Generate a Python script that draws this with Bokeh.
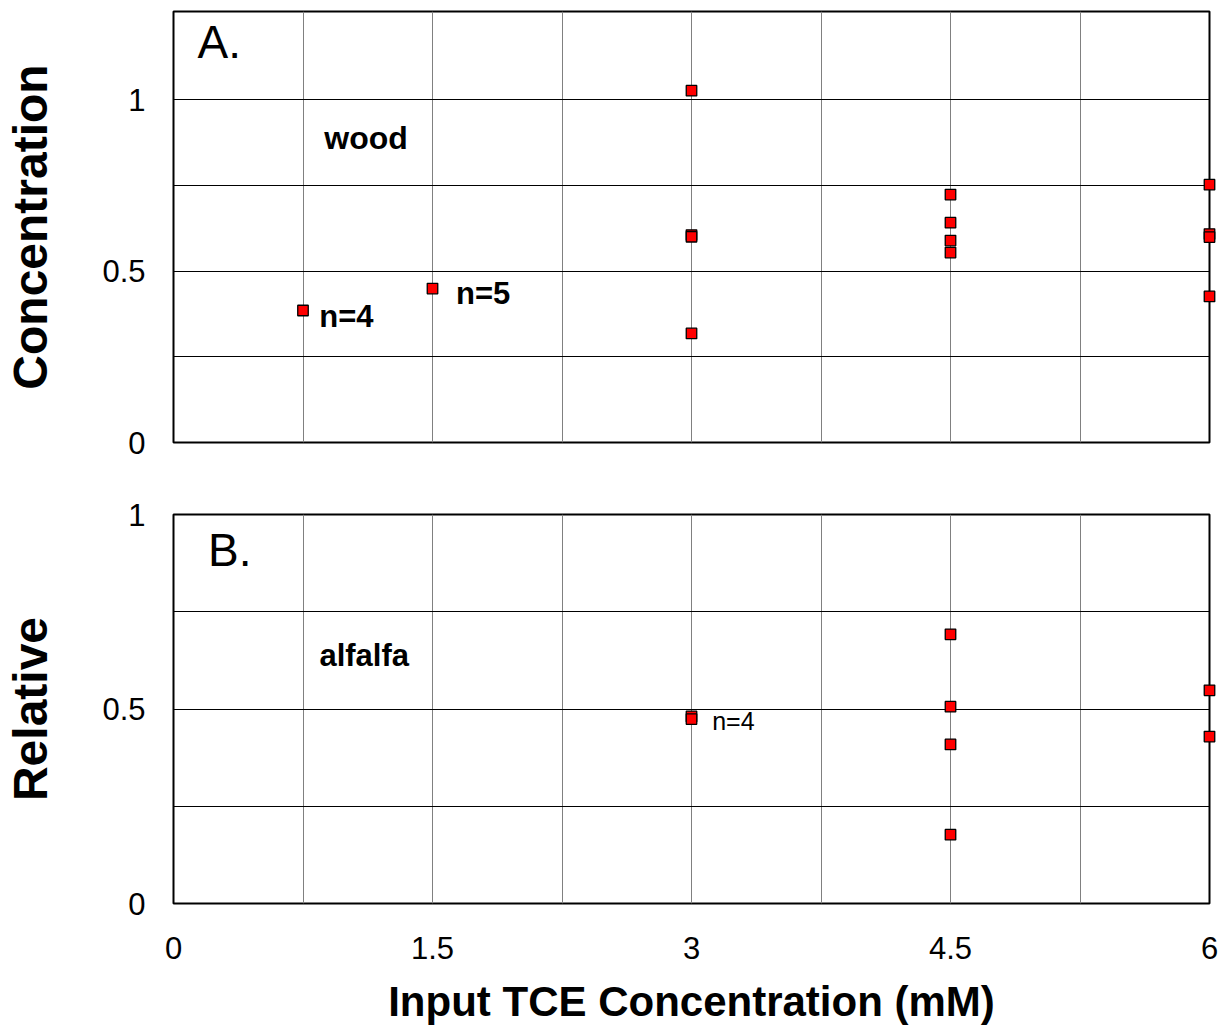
from bokeh.plotting import figure
from bokeh.layouts import column
from bokeh.models import Range1d, FixedTicker, NumeralTickFormatter
from bokeh.core.properties import value
from bokeh.embed import file_html
from bokeh.resources import INLINE

FONT = "Liberation Sans"

# ---- data ----
wood_x = [0.75, 1.5, 3, 3, 3, 3, 4.5, 4.5, 4.5, 4.5, 6, 6, 6, 6]
wood_y = [0.385, 0.449, 1.026, 0.605, 0.600, 0.318, 0.723, 0.641, 0.589, 0.554,
          0.752, 0.608, 0.599, 0.426]
alf_x = [3, 3, 4.5, 4.5, 4.5, 4.5, 6, 6]
alf_y = [0.481, 0.474, 0.692, 0.506, 0.409, 0.177, 0.548, 0.429]

x_ticks = [0, 1.5, 3, 4.5, 6]
x_grid = [0.75, 1.5, 2.25, 3, 3.75, 4.5, 5.25]
y_ticks = [0, 0.5, 1]
y_grid_a = [0.25, 0.5, 0.75, 1.0]
y_grid_b = [0.25, 0.5, 0.75]

# annotations: (text, x, y, size px, style)
notes_a = [("A.", 0.139, 1.122, 46, "normal"),
           ("wood", 0.873, 0.857, 32, "bold"),
           ("n=4", 0.844, 0.335, 31, "bold"),
           ("n=5", 1.636, 0.402, 31, "bold")]
notes_b = [("B.", 0.20, 0.868, 46, "normal"),
           ("alfalfa", 0.845, 0.609, 31, "bold"),
           ("n=4", 3.12, 0.447, 25, "normal")]


def style(p, ygrid, ylabel):
    p.outline_line_color = "black"
    p.outline_line_width = 2
    p.background_fill_color = "white"
    p.border_fill_color = "white"
    p.xgrid.ticker = FixedTicker(ticks=x_grid)
    p.ygrid.ticker = FixedTicker(ticks=ygrid)
    p.xgrid.grid_line_color = "#808080"
    p.ygrid.grid_line_color = "#000000"
    p.xgrid.grid_line_width = 1
    p.ygrid.grid_line_width = 1
    ya = p.yaxis[0]
    ya.ticker = FixedTicker(ticks=y_ticks)
    ya.formatter = NumeralTickFormatter(format="0.[0]")
    ya.axis_line_color = None
    ya.major_tick_line_color = None
    ya.minor_tick_line_color = None
    ya.major_tick_out = 0
    ya.major_tick_in = 0
    ya.major_label_standoff = 28
    ya.major_label_text_font = FONT
    ya.major_label_text_font_size = "31px"
    ya.major_label_text_color = "black"
    ya.axis_label = ylabel
    ya.axis_label_text_font = FONT
    ya.axis_label_text_font_size = "48px"
    ya.axis_label_text_font_style = "bold"
    ya.axis_label_text_color = "black"
    ya.axis_label_standoff = 42


def notes(p, items):
    for t, x, y, size, st in items:
        p.text(x=[x], y=[y], text=[t], text_font=value(FONT),
               text_font_size=f"{size}px", text_font_style=st, text_color="black",
               text_align="left", text_baseline="alphabetic",
               y_offset=-round(0.35 * size))


W = 1222

pa = figure(width=W, height=474, output_backend="svg", toolbar_location=None,
            x_range=Range1d(0, 6), y_range=Range1d(0, 1.257),
            min_border_left=171, min_border_right=13,
            min_border_top=11, min_border_bottom=32)
style(pa, y_grid_a, "Concentration")
pa.xaxis.visible = False
notes(pa, notes_a)
ra = pa.scatter(wood_x, wood_y, marker="square", size=10.5, fill_color="#ff0000",
                line_color="black", line_width=1.3)
ra.level = "overlay"

pb = figure(width=W, height=560, output_backend="svg", toolbar_location=None,
            x_range=Range1d(0, 6), y_range=Range1d(0, 1.0),
            min_border_left=173, min_border_right=9,
            min_border_top=40, min_border_bottom=131)
style(pb, y_grid_b, "Relative")
xa = pb.xaxis[0]
xa.ticker = FixedTicker(ticks=x_ticks)
xa.formatter = NumeralTickFormatter(format="0.[0]")
xa.axis_line_color = None
xa.major_tick_line_color = None
xa.minor_tick_line_color = None
xa.major_tick_out = 0
xa.major_tick_in = 0
xa.major_label_standoff = 33
xa.major_label_text_font = FONT
xa.major_label_text_font_size = "31px"
xa.major_label_text_color = "black"
xa.axis_label = "Input TCE Concentration (mM)"
xa.axis_label_text_font = FONT
xa.axis_label_text_font_size = "42px"
xa.axis_label_text_font_style = "bold"
xa.axis_label_text_color = "black"
xa.axis_label_standoff = 16
notes(pb, notes_b)
rb = pb.scatter(alf_x, alf_y, marker="square", size=10.5, fill_color="#ff0000",
                line_color="black", line_width=1.3)
rb.level = "overlay"

layout = column(pa, pb, spacing=0)
open("out.html", "w").write(file_html(layout, INLINE))
